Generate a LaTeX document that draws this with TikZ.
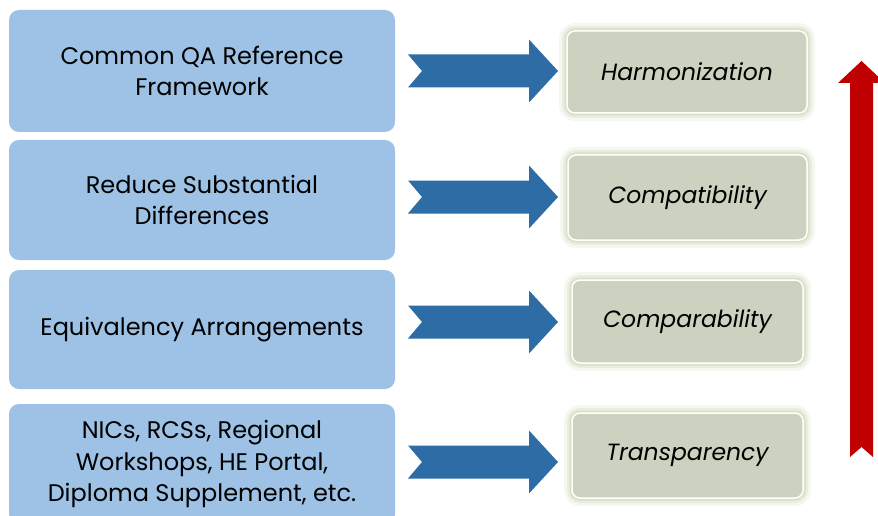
\documentclass[tikz,border=0pt]{standalone}
\usepackage{fontspec}
\setmainfont{Poppins}
\usetikzlibrary{calc}

\definecolor{boxblue}{RGB}{157,194,229}
\definecolor{arrowblue}{RGB}{46,108,166}
\definecolor{boxgreen}{RGB}{203,210,191}
\definecolor{glowgreen}{RGB}{178,198,140}
\definecolor{upred}{RGB}{192,0,0}

\tikzset{
  lbox/.style={fill=boxblue, rounded corners=10pt, minimum width=386pt,
    align=center, inner sep=0pt, text=black,
    font=\fontsize{24}{31.5}\selectfont},
  rbox/.style={fill=boxgreen, draw=white, line width=1.5pt, rounded corners=8pt,
    preaction={draw=glowgreen, fill=none, line width=16pt, draw opacity=0.12},
    preaction={draw=glowgreen, fill=none, line width=10pt, draw opacity=0.18},
    preaction={draw=glowgreen, fill=none, line width=5pt, draw opacity=0.3},
    inner sep=0pt, text=black, font=\fontsize{23.5}{28}\selectfont\itshape},
}

\begin{document}
\begin{tikzpicture}[x=1pt, y=-1pt]
  \clip (0,0) rectangle (878,516);
  \fill[white] (0,0) rectangle (878,516);

  % left column
  \node[lbox, minimum height=122pt] (l1) at (202,71) {Common QA Reference\\Framework};
  \node[lbox, minimum height=120pt] (l2) at (202,200) {Reduce Substantial\\Differences};
  \node[lbox, minimum height=119pt] (l3) at (202,329.5) {Equivalency Arrangements};
  \node[lbox, minimum height=120pt] (l4) at (202,464) {NICs, RCSs, Regional\\Workshops, HE Portal,\\Diploma Supplement, etc.};

  % right column
  \node[rbox, minimum width=240pt, minimum height=82pt] (r1) at (687,72) {Harmonization};
  \node[rbox, minimum width=239pt, minimum height=85pt] (r2) at (687.5,197.5) {Compatibility};
  \node[rbox, minimum width=231pt, minimum height=83pt] (r3) at (687.5,321.5) {Comparability};
  \node[rbox, minimum width=231pt, minimum height=85pt] (r4) at (687.5,455.5) {Transparency};

  % notched block arrows
  \foreach \i/\y in {1/71,2/197,3/322,4/462}{
    \coordinate (a\i) at (408,\y); % tail
    \fill[arrowblue] (a\i) ++(0,-16.5) -- ++(121,0) -- ++(0,-15) -- ++(29,31.5)
      -- ++(-29,31.5) -- ++(0,-15) -- ++(-121,0) -- ++(14,-16.5) -- cycle;
  }

  % red arrow up
  \fill[upred] (850,457) -- (850,83) -- (838,83) -- (861.5,61) -- (885,83)
    -- (873,83) -- (873,457) -- (861.5,447) -- cycle;
\end{tikzpicture}
\end{document}
